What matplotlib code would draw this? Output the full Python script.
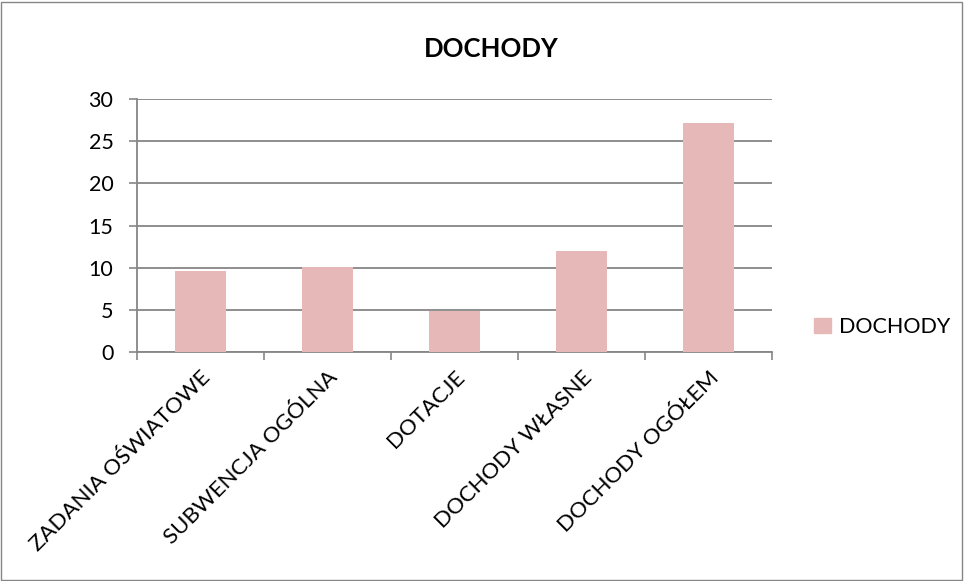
import matplotlib.pyplot as plt
import matplotlib.patches as mpatches
import numpy as np

categories = ["ZADANIA OŚWIATOWE", "SUBWENCJA OGÓLNA", "DOTACJE", "DOCHODY WŁASNE", "DOCHODY OGÓŁEM"]
values = [9.6, 10.1, 4.9, 12.0, 27.2]
series_name = "DOCHODY"
y_ticks = [0, 5, 10, 15, 20, 25, 30]

plt.rcParams['font.family'] = ['Lato', 'DejaVu Sans']

bar_color = "#e6b9b8"
grid_color = "#868686"

fig = plt.figure(figsize=(9.64, 5.81), dpi=100)
ax = fig.add_axes([137 / 964, 1 - 352 / 581, (772 - 137) / 964, (352 - 99) / 581])

x = np.arange(len(categories))
ax.bar(x, values, width=0.4, color=bar_color, zorder=3, label=series_name)

ax.set_xlim(-0.5, len(categories) - 0.5)
ax.set_ylim(0, 30)
ax.set_yticks(y_ticks)
ax.set_yticklabels([str(t) for t in y_ticks], fontsize=15.5)

# category labels centred on bars, tick marks on category boundaries
ax.set_xticks(np.arange(-0.5, len(categories), 1.0))
ax.set_xticklabels([])
ax.set_xticks(x, minor=True)
ax.set_xticklabels(categories, minor=True, rotation=45, ha='right', va='top',
                   rotation_mode='anchor', fontsize=16)
ax.tick_params(axis='x', which='minor', length=0, pad=11)
ax.tick_params(axis='x', which='major', length=6, width=1.2, color=grid_color, direction='out')
ax.tick_params(axis='y', length=6, width=1.2, color=grid_color, direction='out', pad=11)

ax.yaxis.grid(True, color=grid_color, linewidth=1.3, zorder=0)
ax.set_axisbelow(True)
for side in ['top', 'right']:
    ax.spines[side].set_visible(False)
for side in ['left', 'bottom']:
    ax.spines[side].set_color(grid_color)
    ax.spines[side].set_linewidth(1.3)

fig.text(491 / 964, 1 - 49 / 581, "DOCHODY", ha='center', va='center',
         fontsize=18.5, fontweight='bold')

handle = mpatches.Patch(color=bar_color, label=series_name)
fig.legend(handles=[handle], loc='center left', bbox_to_anchor=(795 / 964, 1 - 327 / 581),
           frameon=False, fontsize=15.5, handlelength=0.75, handleheight=0.75, handletextpad=0.4)

# outer chart border
border = mpatches.Rectangle((0.001, 0.002), 0.997, 0.995, transform=fig.transFigure,
                            fill=False, edgecolor=grid_color, linewidth=1.0)
fig.patches.append(border)

fig.savefig("out.png", dpi=100)
